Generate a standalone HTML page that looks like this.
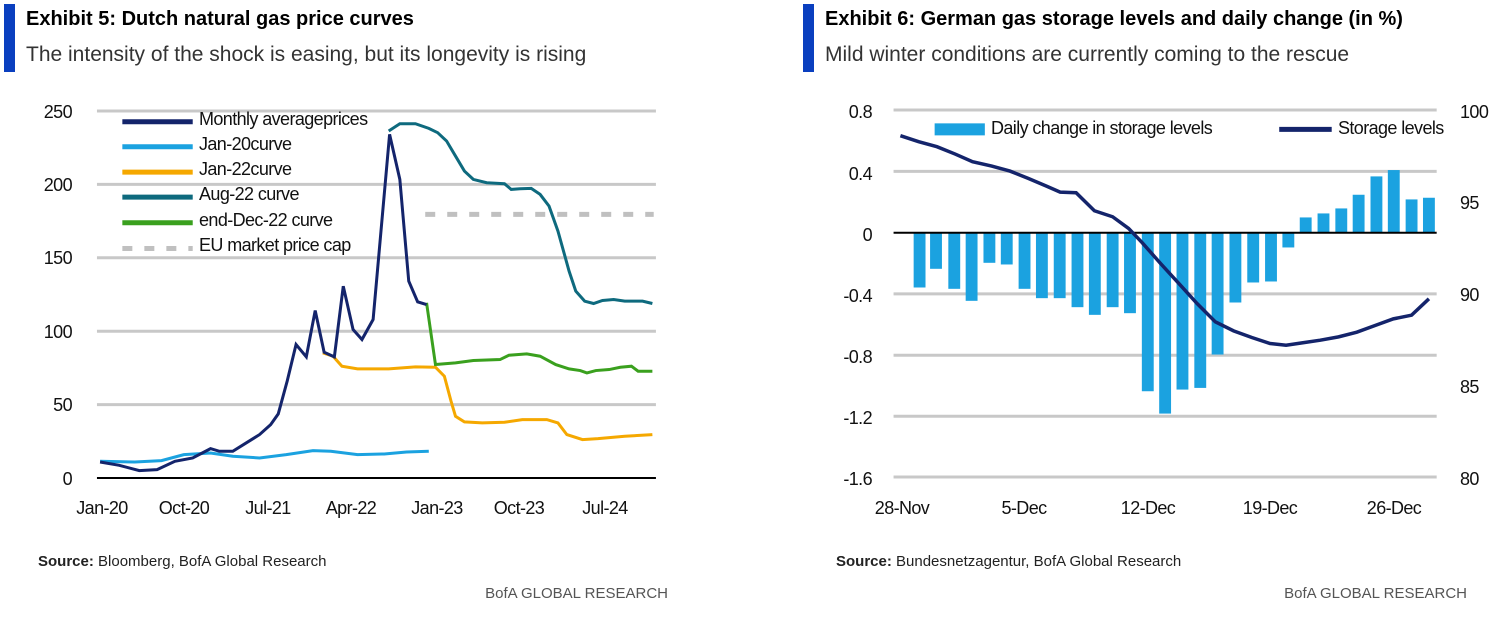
<!DOCTYPE html>
<html><head><meta charset="utf-8"><style>
body{margin:0;background:#fff;width:1512px;height:617px;overflow:hidden}
svg text{font-family:"Liberation Sans Narrow","Liberation Sans",sans-serif}
.t{font-weight:bold;font-size:20px;fill:#000}
.s{font-size:21px;fill:#333}
.ax{font-family:"Liberation Sans",sans-serif!important;font-size:18px;fill:#111;letter-spacing:-0.6px}
.lg{font-family:"Liberation Sans",sans-serif!important;font-size:18px;fill:#111;letter-spacing:-0.6px}
.src{font-size:15px;fill:#222}
.br{font-size:15px;fill:#555}
</style></head><body>
<svg width="1512" height="617" viewBox="0 0 1512 617" xmlns="http://www.w3.org/2000/svg">
<rect x="4" y="4" width="11" height="68" fill="#0a3fbf"/>
<text class="t" x="26" y="25">Exhibit 5: Dutch natural gas price curves</text>
<text class="s" x="26" y="61">The intensity of the shock is easing, but its longevity is rising</text>
<rect x="803" y="4" width="11" height="68" fill="#0a3fbf"/>
<text class="t" x="825" y="25">Exhibit 6: German gas storage levels and daily change (in %)</text>
<text class="s" x="825" y="61">Mild winter conditions are currently coming to the rescue</text>

<!-- LEFT CHART -->
<g transform="translate(1.2,91) scale(0.4454,0.3336)" fill="none">
<g stroke="#c8c8c8" stroke-width="3" vector-effect="non-scaling-stroke">
<line x1="215" y1="60" x2="1470" y2="60" vector-effect="non-scaling-stroke"/>
<line x1="215" y1="280" x2="1470" y2="280" vector-effect="non-scaling-stroke"/>
<line x1="215" y1="500" x2="1470" y2="500" vector-effect="non-scaling-stroke"/>
<line x1="215" y1="720" x2="1470" y2="720" vector-effect="non-scaling-stroke"/>
<line x1="215" y1="940" x2="1470" y2="940" vector-effect="non-scaling-stroke"/>
</g>
<line x1="215" y1="1160" x2="1470" y2="1160" stroke="#000" stroke-width="2" vector-effect="non-scaling-stroke"/>
<line x1="952" y1="370" x2="1465" y2="370" stroke="#c0c0c0" stroke-width="5" stroke-dasharray="10 12" vector-effect="non-scaling-stroke"/>
<polyline stroke="#1ba2e0" stroke-width="3" vector-effect="non-scaling-stroke" points="222,1110 300,1112 360,1108 410,1090 470,1085 520,1095 580,1100 640,1090 700,1078 740,1080 800,1090 860,1088 910,1082 960,1080"/>
<polyline stroke="#0e6a7e" stroke-width="3" vector-effect="non-scaling-stroke" points="870,120 895,98 930,98 960,112 980,125 1000,150 1020,195 1040,240 1060,265 1090,275 1130,278 1145,295 1165,293 1190,292 1210,310 1230,345 1250,420 1275,540 1290,600 1310,630 1330,637 1350,628 1375,625 1400,630 1440,630 1462,637"/>
<polyline stroke="#f5a800" stroke-width="3" vector-effect="non-scaling-stroke" points="722,785 745,795 765,825 800,833 870,833 930,827 975,828 995,855 1010,930 1020,975 1040,992 1080,995 1130,993 1170,985 1225,985 1250,995 1270,1030 1305,1045 1340,1042 1400,1035 1462,1030"/>
<polyline stroke="#3aa01e" stroke-width="3" vector-effect="non-scaling-stroke" points="955,635 975,820 1020,815 1060,808 1120,805 1140,792 1180,788 1210,795 1245,820 1275,833 1300,838 1315,845 1335,838 1365,835 1390,828 1415,825 1430,840 1462,840"/>
<polyline stroke="#14246b" stroke-width="3" vector-effect="non-scaling-stroke" points="222,1112 265,1122 310,1138 350,1135 390,1110 430,1100 470,1072 490,1080 520,1080 550,1055 580,1030 605,1000 622,968 642,870 662,760 685,797 705,658 725,783 748,797 768,585 790,715 810,745 835,685 872,130 895,265 915,570 935,632 955,640"/>
<g stroke-width="5" vector-effect="non-scaling-stroke">
<line x1="272" y1="92" x2="430" y2="92" stroke="#14246b" vector-effect="non-scaling-stroke"/>
<line x1="272" y1="167" x2="430" y2="167" stroke="#1ba2e0" vector-effect="non-scaling-stroke"/>
<line x1="272" y1="243" x2="430" y2="243" stroke="#f5a800" vector-effect="non-scaling-stroke"/>
<line x1="272" y1="318" x2="430" y2="318" stroke="#0e6a7e" vector-effect="non-scaling-stroke"/>
<line x1="272" y1="395" x2="430" y2="395" stroke="#3aa01e" vector-effect="non-scaling-stroke"/>
<line x1="272" y1="472" x2="430" y2="472" stroke="#c0c0c0" stroke-dasharray="10 12" vector-effect="non-scaling-stroke"/>
</g>
</g>
<g class="lg">
<text class="lg" x="199" y="125">Monthly  averageprices</text>
<text class="lg" x="199" y="150">Jan-20curve</text>
<text class="lg" x="199" y="175">Jan-22curve</text>
<text class="lg" x="199" y="200">Aug-22 curve</text>
<text class="lg" x="199" y="226">end-Dec-22 curve</text>
<text class="lg" x="199" y="251">EU market  price cap</text>
</g>
<g text-anchor="end">
<text class="ax" x="72" y="118">250</text>
<text class="ax" x="72" y="191">200</text>
<text class="ax" x="72" y="264">150</text>
<text class="ax" x="72" y="338">100</text>
<text class="ax" x="72" y="411">50</text>
<text class="ax" x="72" y="485">0</text>
</g>
<g text-anchor="middle">
<text class="ax" x="102" y="514">Jan-20</text>
<text class="ax" x="184" y="514">Oct-20</text>
<text class="ax" x="268" y="514">Jul-21</text>
<text class="ax" x="351" y="514">Apr-22</text>
<text class="ax" x="437" y="514">Jan-23</text>
<text class="ax" x="519" y="514">Oct-23</text>
<text class="ax" x="605" y="514">Jul-24</text>
</g>
<text class="src" x="38" y="566"><tspan font-weight="bold">Source:</tspan> Bloomberg, BofA Global Research</text>
<text class="br" x="668" y="598" text-anchor="end">BofA GLOBAL RESEARCH</text>

<!-- RIGHT CHART -->
<g transform="translate(800,90) scale(0.4564,0.3336)" fill="none">
<g stroke="#c8c8c8" stroke-width="3">
<line x1="205" y1="60" x2="1395" y2="60" vector-effect="non-scaling-stroke"/>
<line x1="205" y1="244" x2="1395" y2="244" vector-effect="non-scaling-stroke"/>
<line x1="205" y1="611" x2="1395" y2="611" vector-effect="non-scaling-stroke"/>
<line x1="205" y1="795" x2="1395" y2="795" vector-effect="non-scaling-stroke"/>
<line x1="205" y1="978" x2="1395" y2="978" vector-effect="non-scaling-stroke"/>
<line x1="205" y1="1160" x2="1395" y2="1160" vector-effect="non-scaling-stroke"/>
</g>
<g fill="#1ba2e0">
<rect x="249" y="428" width="26" height="164"/>
<rect x="285" y="428" width="26" height="108"/>
<rect x="325" y="428" width="26" height="168"/>
<rect x="363" y="428" width="26" height="204"/>
<rect x="402" y="428" width="26" height="90"/>
<rect x="440" y="428" width="26" height="95"/>
<rect x="479" y="428" width="26" height="168"/>
<rect x="517" y="428" width="26" height="196"/>
<rect x="556" y="428" width="26" height="196"/>
<rect x="595" y="428" width="26" height="223"/>
<rect x="633" y="428" width="26" height="246"/>
<rect x="672" y="428" width="26" height="223"/>
<rect x="710" y="428" width="26" height="241"/>
<rect x="749" y="428" width="26" height="475"/>
<rect x="787" y="428" width="26" height="542"/>
<rect x="825" y="428" width="26" height="470"/>
<rect x="864" y="428" width="26" height="465"/>
<rect x="902" y="428" width="26" height="365"/>
<rect x="941" y="428" width="26" height="209"/>
<rect x="980" y="428" width="26" height="149"/>
<rect x="1019" y="428" width="26" height="146"/>
<rect x="1057" y="428" width="26" height="44"/>
<rect x="1095" y="382" width="26" height="46"/>
<rect x="1134" y="370" width="26" height="58"/>
<rect x="1173" y="355" width="26" height="73"/>
<rect x="1211" y="314" width="26" height="114"/>
<rect x="1250" y="259" width="26" height="169"/>
<rect x="1288" y="240" width="26" height="188"/>
<rect x="1327" y="328" width="26" height="100"/>
<rect x="1365" y="323" width="26" height="105"/>
<rect x="295" y="100" width="110" height="36"/>
</g>
<line x1="205" y1="428" x2="1395" y2="428" stroke="#000" stroke-width="2" vector-effect="non-scaling-stroke"/>
<polyline stroke="#14246b" stroke-width="3.5" vector-effect="non-scaling-stroke" points="220,137 260,155 300,170 340,192 378,215 420,228 460,243 500,265 540,288 570,306 605,308 645,362 685,380 720,415 750,458 790,520 830,580 870,640 910,695 950,722 990,742 1030,760 1065,765 1100,758 1140,750 1180,740 1220,726 1260,706 1300,686 1340,675 1378,626"/>
<line x1="1050" y1="118" x2="1165" y2="118" stroke="#14246b" stroke-width="5" vector-effect="non-scaling-stroke"/>
</g>
<text class="lg" x="991" y="134">Daily change in storage levels</text>
<text class="lg" x="1338" y="134">Storage levels</text>
<g text-anchor="end">
<text class="ax" x="872" y="118">0.8</text>
<text class="ax" x="872" y="180">0.4</text>
<text class="ax" x="872" y="241">0</text>
<text class="ax" x="872" y="302">-0.4</text>
<text class="ax" x="872" y="363">-0.8</text>
<text class="ax" x="872" y="424">-1.2</text>
<text class="ax" x="872" y="485">-1.6</text>
</g>
<g>
<text class="ax" x="1460" y="118">100</text>
<text class="ax" x="1460" y="209">95</text>
<text class="ax" x="1460" y="301">90</text>
<text class="ax" x="1460" y="393">85</text>
<text class="ax" x="1460" y="485">80</text>
</g>
<g text-anchor="middle">
<text class="ax" x="902" y="514">28-Nov</text>
<text class="ax" x="1024" y="514">5-Dec</text>
<text class="ax" x="1148" y="514">12-Dec</text>
<text class="ax" x="1270" y="514">19-Dec</text>
<text class="ax" x="1394" y="514">26-Dec</text>
</g>
<text class="src" x="836" y="566"><tspan font-weight="bold">Source:</tspan> Bundesnetzagentur, BofA Global Research</text>
<text class="br" x="1467" y="598" text-anchor="end">BofA GLOBAL RESEARCH</text>
</svg>
</body></html>
